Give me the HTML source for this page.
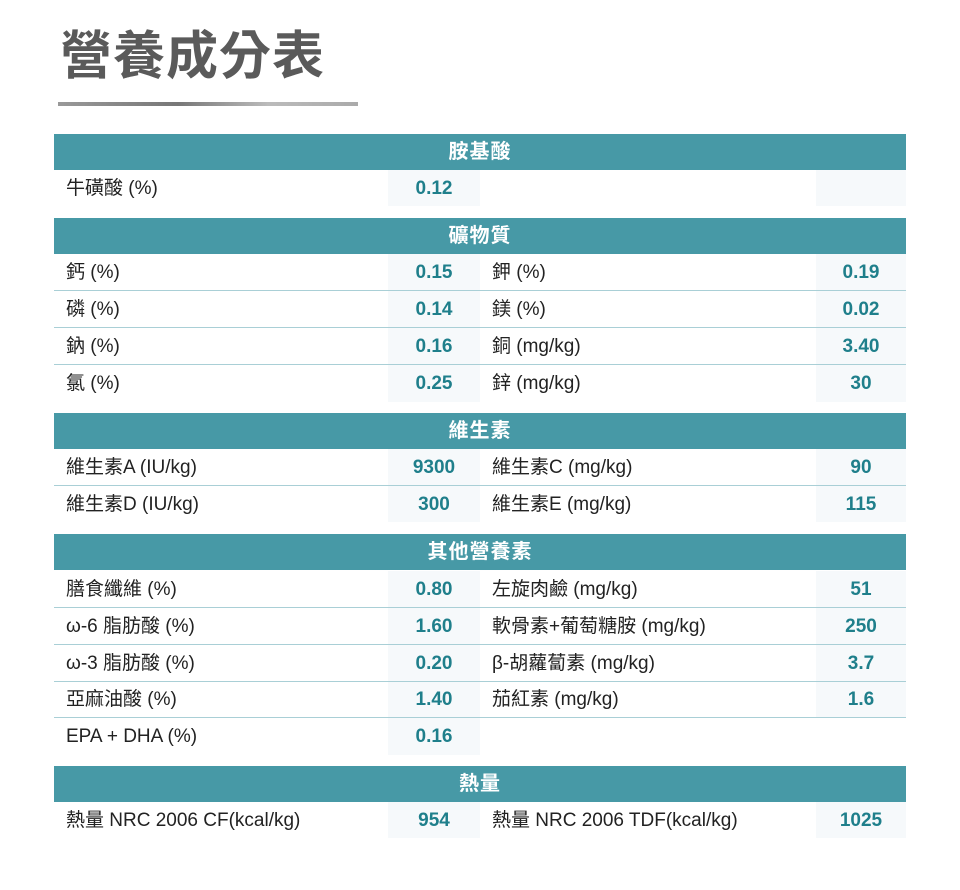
<!DOCTYPE html>
<html><head><meta charset="utf-8"><style>
*{margin:0;padding:0;box-sizing:border-box}
body{width:960px;height:890px;background:#fff;position:relative;overflow:hidden;font-family:"Liberation Sans","Noto Sans CJK TC",sans-serif}
.t{position:absolute;left:60px;top:25px;font-size:52px;font-weight:bold;color:#5a5a5a;letter-spacing:1px;line-height:64px}
.ul{position:absolute;left:58px;top:102px;width:300px;height:4px;background:linear-gradient(90deg,#999,#777 40%,#bbb 70%,#aaa)}
.h{position:absolute;left:54px;width:852px;height:36px;background:#4799a6;color:#fff;font-size:20px;font-weight:bold;text-align:center;line-height:36px;letter-spacing:1px}
.vb{position:absolute;background:#f6f9fb}
.r{position:absolute;left:54px;width:852px;height:37px;font-size:19px;color:#222;line-height:37px}
.r.s{border-bottom:1px solid #a9cfd6}
.l1{position:absolute;left:12px}
.v1{position:absolute;left:334px;width:92px;text-align:center;color:#1f7f8b;font-weight:bold}
.l2{position:absolute;left:438px}
.v2{position:absolute;left:762px;width:90px;text-align:center;color:#1f7f8b;font-weight:bold}
</style></head><body>
<div class="t">營養成分表</div>
<div class="ul"></div>

<div class="h" style="top:134px">胺基酸</div>
<div class="vb" style="left:388px;top:170px;width:92px;height:36px"></div>
<div class="vb" style="left:816px;top:170px;width:90px;height:36px"></div>
<div class="r" style="top:170px"><span class="l1">牛磺酸 (%)</span><span class="v1">0.12</span></div>

<div class="h" style="top:218px">礦物質</div>
<div class="vb" style="left:388px;top:254px;width:92px;height:148px"></div>
<div class="vb" style="left:816px;top:254px;width:90px;height:148px"></div>
<div class="r s" style="top:254px"><span class="l1">鈣 (%)</span><span class="v1">0.15</span><span class="l2">鉀 (%)</span><span class="v2">0.19</span></div>
<div class="r s" style="top:291px"><span class="l1">磷 (%)</span><span class="v1">0.14</span><span class="l2">鎂 (%)</span><span class="v2">0.02</span></div>
<div class="r s" style="top:328px"><span class="l1">鈉 (%)</span><span class="v1">0.16</span><span class="l2">銅 (mg/kg)</span><span class="v2">3.40</span></div>
<div class="r" style="top:365px"><span class="l1">氯 (%)</span><span class="v1">0.25</span><span class="l2">鋅 (mg/kg)</span><span class="v2">30</span></div>

<div class="h" style="top:413px">維生素</div>
<div class="vb" style="left:388px;top:449px;width:92px;height:73px"></div>
<div class="vb" style="left:816px;top:449px;width:90px;height:73px"></div>
<div class="r s" style="top:449px"><span class="l1">維生素A (IU/kg)</span><span class="v1">9300</span><span class="l2">維生素C (mg/kg)</span><span class="v2">90</span></div>
<div class="r" style="top:486px"><span class="l1">維生素D (IU/kg)</span><span class="v1">300</span><span class="l2">維生素E (mg/kg)</span><span class="v2">115</span></div>

<div class="h" style="top:534px">其他營養素</div>
<div class="vb" style="left:388px;top:571px;width:92px;height:184px"></div>
<div class="vb" style="left:816px;top:571px;width:90px;height:147px"></div>
<div class="r s" style="top:571px"><span class="l1">膳食纖維 (%)</span><span class="v1">0.80</span><span class="l2">左旋肉鹼 (mg/kg)</span><span class="v2">51</span></div>
<div class="r s" style="top:608px"><span class="l1">ω-6 脂肪酸 (%)</span><span class="v1">1.60</span><span class="l2">軟骨素+葡萄糖胺 (mg/kg)</span><span class="v2">250</span></div>
<div class="r s" style="top:645px"><span class="l1">ω-3 脂肪酸 (%)</span><span class="v1">0.20</span><span class="l2">β-胡蘿蔔素 (mg/kg)</span><span class="v2">3.7</span></div>
<div class="r s" style="top:681px"><span class="l1">亞麻油酸 (%)</span><span class="v1">1.40</span><span class="l2">茄紅素 (mg/kg)</span><span class="v2">1.6</span></div>
<div class="r" style="top:718px"><span class="l1">EPA + DHA (%)</span><span class="v1">0.16</span></div>

<div class="h" style="top:766px">熱量</div>
<div class="vb" style="left:388px;top:802px;width:92px;height:36px"></div>
<div class="vb" style="left:816px;top:802px;width:90px;height:36px"></div>
<div class="r" style="top:802px"><span class="l1">熱量 NRC 2006 CF(kcal/kg)</span><span class="v1">954</span><span class="l2">熱量 NRC 2006 TDF(kcal/kg)</span><span class="v2">1025</span></div>
</body></html>
